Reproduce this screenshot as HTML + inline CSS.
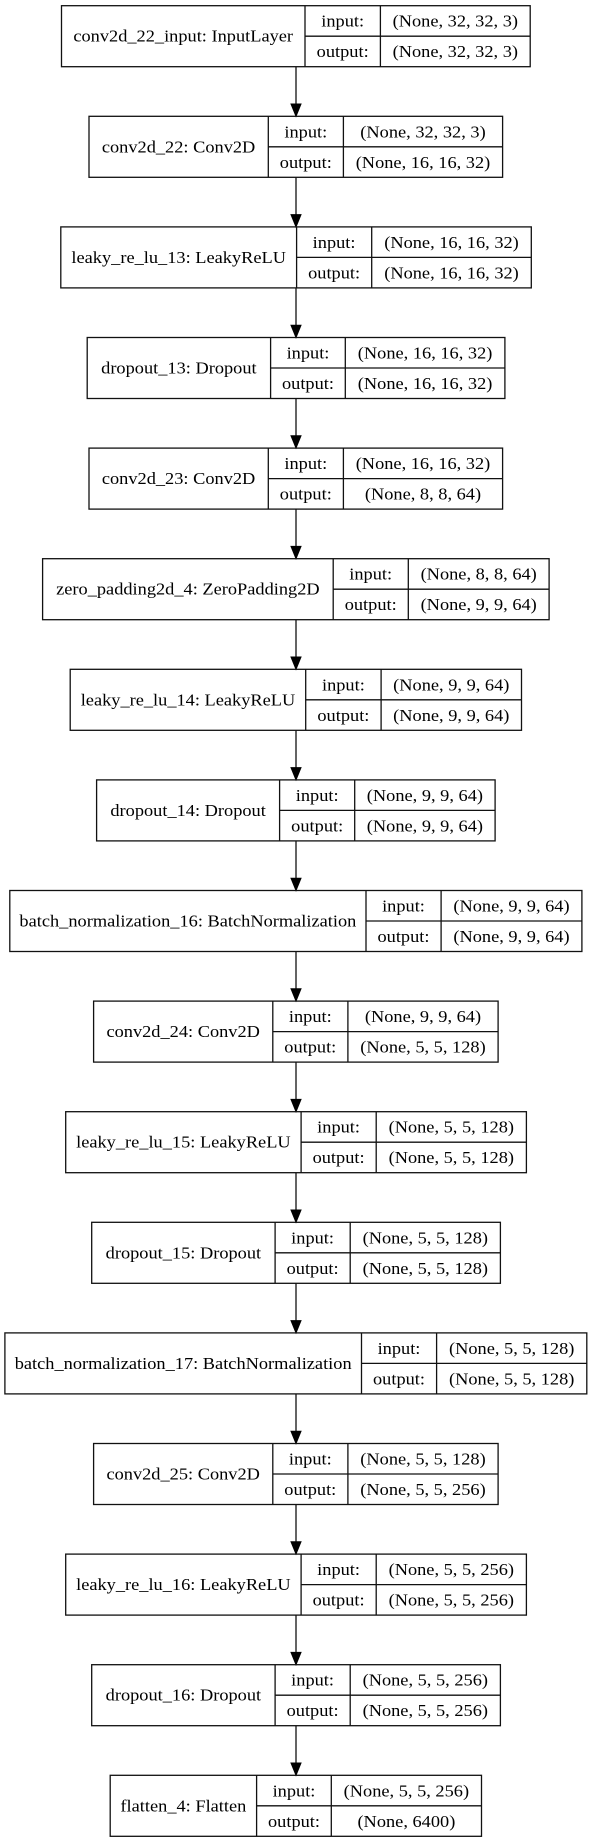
<!DOCTYPE html>
<html><head><meta charset="utf-8"><style>
html,body{margin:0;padding:0;background:#fff}
svg{display:block}
text{font-family:"Liberation Serif",serif;font-size:17px;fill:#000;text-anchor:middle;transform-box:fill-box;transform-origin:center;transform:scaleX(1.08)}
rect,line{stroke:#111;stroke-width:1.3;fill:none}
polygon{fill:#000;stroke:#000}
</style></head><body>
<svg width="589" height="1844" viewBox="0 0 589 1844" xmlns="http://www.w3.org/2000/svg">
<!-- arrows -->
<g>
<line x1="296" y1="66.7" x2="296" y2="106"/><polygon points="291,104 301,104 296,116.3"/>
<line x1="296" y1="177.3" x2="296" y2="217"/><polygon points="291,214.6 301,214.6 296,226.9"/>
<line x1="296" y1="287.9" x2="296" y2="327"/><polygon points="291,325.2 301,325.2 296,337.5"/>
<line x1="296" y1="398.5" x2="296" y2="438"/><polygon points="291,435.8 301,435.8 296,448.1"/>
<line x1="296" y1="509.1" x2="296" y2="548"/><polygon points="291,546.4 301,546.4 296,558.7"/>
<line x1="296" y1="619.7" x2="296" y2="659"/><polygon points="291,657 301,657 296,669.3"/>
<line x1="296" y1="730.3" x2="296" y2="770"/><polygon points="291,767.6 301,767.6 296,779.9"/>
<line x1="296" y1="840.9" x2="296" y2="880"/><polygon points="291,878.2 301,878.2 296,890.5"/>
<line x1="296" y1="951.5" x2="296" y2="991"/><polygon points="291,988.8 301,988.8 296,1001.1"/>
<line x1="296" y1="1062.1" x2="296" y2="1101"/><polygon points="291,1099.4 301,1099.4 296,1111.7"/>
<line x1="296" y1="1172.7" x2="296" y2="1212"/><polygon points="291,1210 301,1210 296,1222.3"/>
<line x1="296" y1="1283.3" x2="296" y2="1323"/><polygon points="291,1320.6 301,1320.6 296,1332.9"/>
<line x1="296" y1="1393.9" x2="296" y2="1433"/><polygon points="291,1431.2 301,1431.2 296,1443.5"/>
<line x1="296" y1="1504.5" x2="296" y2="1544"/><polygon points="291,1541.8 301,1541.8 296,1554.1"/>
<line x1="296" y1="1615.1" x2="296" y2="1654"/><polygon points="291,1652.4 301,1652.4 296,1664.7"/>
<line x1="296" y1="1725.7" x2="296" y2="1765"/><polygon points="291,1763 301,1763 296,1775.3"/>
</g>

<!-- 0 -->
<g transform="translate(0,5.7)">
<rect x="61.5" y="0" width="468.7" height="61"/><line x1="305" y1="0" x2="305" y2="61"/><line x1="380.4" y1="0" x2="380.4" y2="61"/><line x1="305" y1="30.5" x2="530.2" y2="30.5"/>
<text x="183.2" y="36">conv2d_22_input: InputLayer</text>
<text x="342.7" y="21">input:</text><text x="342.7" y="51.5">output:</text>
<text x="455.3" y="21">(None, 32, 32, 3)</text><text x="455.3" y="51.5">(None, 32, 32, 3)</text>
</g>
<!-- 1 -->
<g transform="translate(0,116.3)">
<rect x="89" y="0" width="413.6" height="61"/><line x1="268.3" y1="0" x2="268.3" y2="61"/><line x1="343.4" y1="0" x2="343.4" y2="61"/><line x1="268.3" y1="30.5" x2="502.6" y2="30.5"/>
<text x="178.6" y="36">conv2d_22: Conv2D</text>
<text x="305.8" y="21">input:</text><text x="305.8" y="51.5">output:</text>
<text x="423" y="21">(None, 32, 32, 3)</text><text x="423" y="51.5">(None, 16, 16, 32)</text>
</g>
<!-- 2 -->
<g transform="translate(0,226.9)">
<rect x="60.8" y="0" width="470.5" height="61"/><line x1="296.6" y1="0" x2="296.6" y2="61"/><line x1="371.7" y1="0" x2="371.7" y2="61"/><line x1="296.6" y1="30.5" x2="531.3" y2="30.5"/>
<text x="178.7" y="36">leaky_re_lu_13: LeakyReLU</text>
<text x="334.1" y="21">input:</text><text x="334.1" y="51.5">output:</text>
<text x="451.5" y="21">(None, 16, 16, 32)</text><text x="451.5" y="51.5">(None, 16, 16, 32)</text>
</g>
<!-- 3 -->
<g transform="translate(0,337.5)">
<rect x="87.2" y="0" width="417.7" height="61"/><line x1="270.6" y1="0" x2="270.6" y2="61"/><line x1="345.3" y1="0" x2="345.3" y2="61"/><line x1="270.6" y1="30.5" x2="504.9" y2="30.5"/>
<text x="178.9" y="36">dropout_13: Dropout</text>
<text x="308" y="21">input:</text><text x="308" y="51.5">output:</text>
<text x="425.1" y="21">(None, 16, 16, 32)</text><text x="425.1" y="51.5">(None, 16, 16, 32)</text>
</g>
<!-- 4 -->
<g transform="translate(0,448.1)">
<rect x="89" y="0" width="413.6" height="61"/><line x1="268.3" y1="0" x2="268.3" y2="61"/><line x1="343.4" y1="0" x2="343.4" y2="61"/><line x1="268.3" y1="30.5" x2="502.6" y2="30.5"/>
<text x="178.6" y="36">conv2d_23: Conv2D</text>
<text x="305.8" y="21">input:</text><text x="305.8" y="51.5">output:</text>
<text x="423" y="21">(None, 16, 16, 32)</text><text x="423" y="51.5">(None, 8, 8, 64)</text>
</g>
<!-- 5 -->
<g transform="translate(0,558.7)">
<rect x="42.6" y="0" width="506.5" height="61"/><line x1="333.2" y1="0" x2="333.2" y2="61"/><line x1="408.3" y1="0" x2="408.3" y2="61"/><line x1="333.2" y1="30.5" x2="549.1" y2="30.5"/>
<text x="187.9" y="36">zero_padding2d_4: ZeroPadding2D</text>
<text x="370.7" y="21">input:</text><text x="370.7" y="51.5">output:</text>
<text x="478.7" y="21">(None, 8, 8, 64)</text><text x="478.7" y="51.5">(None, 9, 9, 64)</text>
</g>
<!-- 6 -->
<g transform="translate(0,669.3)">
<rect x="70.2" y="0" width="451.3" height="61"/><line x1="305.7" y1="0" x2="305.7" y2="61"/><line x1="381.1" y1="0" x2="381.1" y2="61"/><line x1="305.7" y1="30.5" x2="521.5" y2="30.5"/>
<text x="188" y="36">leaky_re_lu_14: LeakyReLU</text>
<text x="343.4" y="21">input:</text><text x="343.4" y="51.5">output:</text>
<text x="451.3" y="21">(None, 9, 9, 64)</text><text x="451.3" y="51.5">(None, 9, 9, 64)</text>
</g>
<!-- 7 -->
<g transform="translate(0,779.9)">
<rect x="96.6" y="0" width="398.5" height="61"/><line x1="279.6" y1="0" x2="279.6" y2="61"/><line x1="354.7" y1="0" x2="354.7" y2="61"/><line x1="279.6" y1="30.5" x2="495.1" y2="30.5"/>
<text x="188.1" y="36">dropout_14: Dropout</text>
<text x="317.2" y="21">input:</text><text x="317.2" y="51.5">output:</text>
<text x="424.9" y="21">(None, 9, 9, 64)</text><text x="424.9" y="51.5">(None, 9, 9, 64)</text>
</g>
<!-- 8 -->
<g transform="translate(0,890.5)">
<rect x="9.8" y="0" width="572.1" height="61"/><line x1="366" y1="0" x2="366" y2="61"/><line x1="441.1" y1="0" x2="441.1" y2="61"/><line x1="366" y1="30.5" x2="581.9" y2="30.5"/>
<text x="187.9" y="36">batch_normalization_16: BatchNormalization</text>
<text x="403.5" y="21">input:</text><text x="403.5" y="51.5">output:</text>
<text x="511.5" y="21">(None, 9, 9, 64)</text><text x="511.5" y="51.5">(None, 9, 9, 64)</text>
</g>
<!-- 9 -->
<g transform="translate(0,1001.1)">
<rect x="93.6" y="0" width="404.5" height="61"/><line x1="272.8" y1="0" x2="272.8" y2="61"/><line x1="347.9" y1="0" x2="347.9" y2="61"/><line x1="272.8" y1="30.5" x2="498.1" y2="30.5"/>
<text x="183.2" y="36">conv2d_24: Conv2D</text>
<text x="310.3" y="21">input:</text><text x="310.3" y="51.5">output:</text>
<text x="423" y="21">(None, 9, 9, 64)</text><text x="423" y="51.5">(None, 5, 5, 128)</text>
</g>
<!-- 10 -->
<g transform="translate(0,1111.7)">
<rect x="65.7" y="0" width="460.7" height="61"/><line x1="301.1" y1="0" x2="301.1" y2="61"/><line x1="376.2" y1="0" x2="376.2" y2="61"/><line x1="301.1" y1="30.5" x2="526.4" y2="30.5"/>
<text x="183.4" y="36">leaky_re_lu_15: LeakyReLU</text>
<text x="338.6" y="21">input:</text><text x="338.6" y="51.5">output:</text>
<text x="451.3" y="21">(None, 5, 5, 128)</text><text x="451.3" y="51.5">(None, 5, 5, 128)</text>
</g>
<!-- 11 -->
<g transform="translate(0,1222.3)">
<rect x="91.7" y="0" width="408.7" height="61"/><line x1="275.1" y1="0" x2="275.1" y2="61"/><line x1="350.2" y1="0" x2="350.2" y2="61"/><line x1="275.1" y1="30.5" x2="500.4" y2="30.5"/>
<text x="183.4" y="36">dropout_15: Dropout</text>
<text x="312.6" y="21">input:</text><text x="312.6" y="51.5">output:</text>
<text x="425.3" y="21">(None, 5, 5, 128)</text><text x="425.3" y="51.5">(None, 5, 5, 128)</text>
</g>
<!-- 12 -->
<g transform="translate(0,1332.9)">
<rect x="4.9" y="0" width="581.9" height="61"/><line x1="361.5" y1="0" x2="361.5" y2="61"/><line x1="436.6" y1="0" x2="436.6" y2="61"/><line x1="361.5" y1="30.5" x2="586.8" y2="30.5"/>
<text x="183.2" y="36">batch_normalization_17: BatchNormalization</text>
<text x="399" y="21">input:</text><text x="399" y="51.5">output:</text>
<text x="511.7" y="21">(None, 5, 5, 128)</text><text x="511.7" y="51.5">(None, 5, 5, 128)</text>
</g>
<!-- 13 -->
<g transform="translate(0,1443.5)">
<rect x="93.6" y="0" width="404.5" height="61"/><line x1="272.8" y1="0" x2="272.8" y2="61"/><line x1="347.9" y1="0" x2="347.9" y2="61"/><line x1="272.8" y1="30.5" x2="498.1" y2="30.5"/>
<text x="183.2" y="36">conv2d_25: Conv2D</text>
<text x="310.3" y="21">input:</text><text x="310.3" y="51.5">output:</text>
<text x="423" y="21">(None, 5, 5, 128)</text><text x="423" y="51.5">(None, 5, 5, 256)</text>
</g>
<!-- 14 -->
<g transform="translate(0,1554.1)">
<rect x="65.7" y="0" width="460.7" height="61"/><line x1="301.1" y1="0" x2="301.1" y2="61"/><line x1="376.2" y1="0" x2="376.2" y2="61"/><line x1="301.1" y1="30.5" x2="526.4" y2="30.5"/>
<text x="183.4" y="36">leaky_re_lu_16: LeakyReLU</text>
<text x="338.6" y="21">input:</text><text x="338.6" y="51.5">output:</text>
<text x="451.3" y="21">(None, 5, 5, 256)</text><text x="451.3" y="51.5">(None, 5, 5, 256)</text>
</g>
<!-- 15 -->
<g transform="translate(0,1664.7)">
<rect x="91.7" y="0" width="408.7" height="61"/><line x1="275.1" y1="0" x2="275.1" y2="61"/><line x1="350.2" y1="0" x2="350.2" y2="61"/><line x1="275.1" y1="30.5" x2="500.4" y2="30.5"/>
<text x="183.4" y="36">dropout_16: Dropout</text>
<text x="312.6" y="21">input:</text><text x="312.6" y="51.5">output:</text>
<text x="425.3" y="21">(None, 5, 5, 256)</text><text x="425.3" y="51.5">(None, 5, 5, 256)</text>
</g>
<!-- 16 -->
<g transform="translate(0,1775.3)">
<rect x="110.2" y="0" width="371.3" height="61"/><line x1="256.6" y1="0" x2="256.6" y2="61"/><line x1="331.3" y1="0" x2="331.3" y2="61"/><line x1="256.6" y1="30.5" x2="481.5" y2="30.5"/>
<text x="183.4" y="36">flatten_4: Flatten</text>
<text x="294" y="21">input:</text><text x="294" y="51.5">output:</text>
<text x="406.4" y="21">(None, 5, 5, 256)</text><text x="406.4" y="51.5">(None, 6400)</text>
</g>
</svg>
</body></html>
